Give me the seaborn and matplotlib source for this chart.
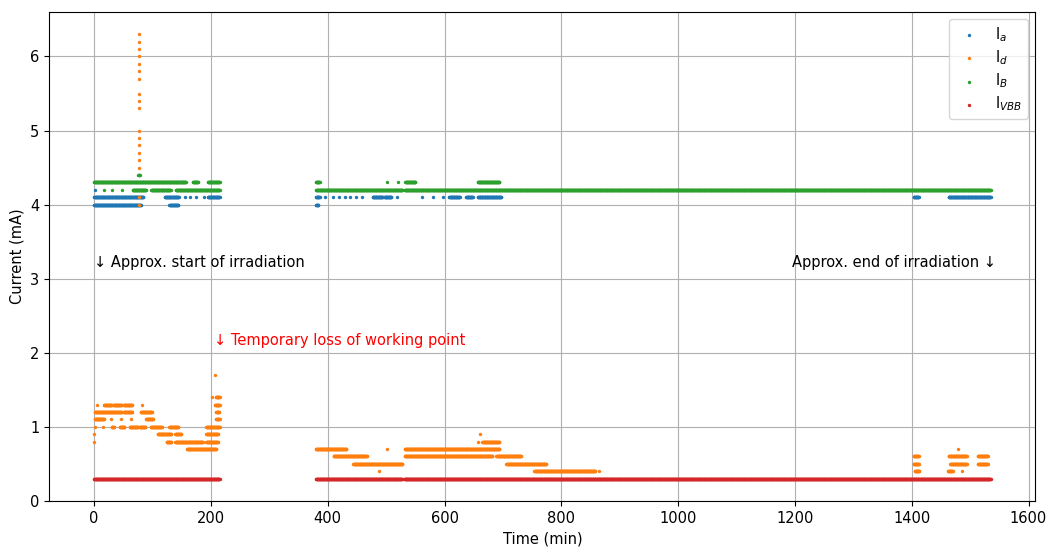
import numpy as np
import pandas as pd
import matplotlib
matplotlib.use("Agg")
import matplotlib.pyplot as plt
import seaborn as sns

# ---- data: runs of constant readings (start_min, end_min, value_mA) ----
ia_runs = [
    (0, 80, 4.0), (129, 144, 4.0), (380, 384, 4.0),
    (0, 84, 4.1), (121, 145, 4.1), (155, 155, 4.1), (164, 164, 4.1), (174, 174, 4.1),
    (189, 189, 4.1), (195, 215, 4.1), (380, 386, 4.1), (396, 396, 4.1), (409, 409, 4.1),
    (419, 419, 4.1), (429, 429, 4.1), (438, 438, 4.1), (448, 448, 4.1), (458, 458, 4.1),
    (477, 494, 4.1), (497, 509, 4.1), (518, 518, 4.1), (562, 562, 4.1), (581, 581, 4.1),
    (598, 598, 4.1), (608, 626, 4.1), (637, 648, 4.1), (657, 697, 4.1),
    (1403, 1412, 4.1), (1463, 1535, 4.1),
    (1, 1, 4.2),
]

id_runs = [
    (5, 5, 1.3), (17, 30, 1.3), (33, 47, 1.3), (51, 65, 1.3), (82, 82, 1.3), (207, 215, 1.3),
    (202, 202, 1.4), (209, 215, 1.4), (207, 207, 1.7),
    (1, 47, 1.2), (51, 65, 1.2), (80, 99, 1.2), (209, 214, 1.2),
    (1, 17, 1.1), (29, 29, 1.1), (46, 46, 1.1), (63, 63, 1.1), (89, 101, 1.1), (209, 215, 1.1),
    (2, 2, 1.0), (16, 16, 1.0), (30, 34, 1.0), (44, 52, 1.0), (61, 75, 1.0), (78, 88, 1.0),
    (97, 116, 1.0), (129, 144, 1.0), (192, 215, 1.0),
    (0, 0, 0.9), (109, 132, 0.9), (139, 149, 0.9), (192, 212, 0.9), (660, 660, 0.9),
    (0, 0, 0.8), (124, 132, 0.8), (139, 186, 0.8), (192, 212, 0.8), (657, 657, 0.8), (665, 694, 0.8),
    (159, 209, 0.7), (380, 432, 0.7), (501, 501, 0.7), (532, 694, 0.7), (1479, 1479, 0.7),
    (410, 467, 0.6), (532, 682, 0.6), (689, 731, 0.6), (1403, 1412, 0.6), (1463, 1494, 0.6),
    (1513, 1530, 0.6),
    (444, 528, 0.5), (706, 774, 0.5), (1403, 1412, 0.5), (1466, 1494, 0.5), (1513, 1530, 0.5),
    (487, 487, 0.4), (754, 858, 0.4), (864, 864, 0.4), (1405, 1413, 0.4), (1462, 1470, 0.4),
    (1486, 1486, 0.4),
]
id_spike_time = 77
id_spike_values = [4.0, 4.1, 4.2, 4.5, 4.6, 4.7, 4.8, 4.9, 5.0, 5.3, 5.4, 5.5,
                   5.7, 5.8, 5.9, 6.0, 6.1, 6.2, 6.3]

ib_runs = [
    (0, 157, 4.3), (169, 178, 4.3), (195, 215, 4.3), (380, 386, 4.3), (501, 501, 4.3),
    (521, 521, 4.3), (533, 550, 4.3), (657, 694, 4.3),
    (17, 17, 4.2), (31, 31, 4.2), (47, 47, 4.2), (66, 89, 4.2), (98, 131, 4.2),
    (140, 215, 4.2), (380, 528, 4.2), (532, 1535, 4.2),
    (76, 78, 4.4),
]

ivbb_runs = [(0, 215, 0.3), (380, 527, 0.3), (531, 1535, 0.3)]

series_labels = [r"I$_a$", r"I$_d$", r"I$_B$", r"I$_{VBB}$"]
series_colors = ["#1f77b4", "#ff7f0e", "#2ca02c", "#d62728"]


def expand(runs, step=0.5):
    t, v = [], []
    for a, b, val in runs:
        ts = np.arange(a, b + 0.001, step)
        t.extend(ts)
        v.extend([val] * len(ts))
    return np.array(t, dtype=float), np.array(v, dtype=float)


ia_t, ia_v = expand(ia_runs)
id_t, id_v = expand(id_runs)
id_t = np.concatenate([id_t, np.full(len(id_spike_values), id_spike_time, dtype=float)])
id_v = np.concatenate([id_v, np.array(id_spike_values)])
ib_t, ib_v = expand(ib_runs)
vb_t, vb_v = expand(ivbb_runs)

data = [(ia_t, ia_v), (id_t, id_v), (ib_t, ib_v), (vb_t, vb_v)]

plt.rcParams["font.size"] = 10.5

fig = plt.figure(figsize=(10.48, 5.48), dpi=100)
ax = fig.add_subplot(111)
fig.subplots_adjust(left=0.047, right=0.988, bottom=0.086, top=0.978)

for (t, v), lab, col in zip(data, series_labels, series_colors):
    df = pd.DataFrame({"Time (min)": t, "Current (mA)": v})
    sns.scatterplot(data=df, x="Time (min)", y="Current (mA)", ax=ax, color=col,
                    s=6, linewidth=0, label=lab, zorder=2)

ax.set_ylim(bottom=0)
ax.set_xticks(np.arange(0, 1601, 200))
ax.set_yticks(np.arange(0, 7, 1))
ax.grid(True, color="#b0b0b0", linewidth=0.8)
ax.set_axisbelow(True)
ax.set_xlabel("Time (min)")
ax.set_ylabel("Current (mA)")

ax.text(0, 3.22, "↓ Approx. start of irradiation", ha="left", va="center")
ax.text(1545, 3.22, "Approx. end of irradiation ↓", ha="right", va="center")
ax.text(205, 2.17, "↓ Temporary loss of working point", ha="left", va="center",
        color="red")

ax.legend(loc="upper right", labelspacing=0.3, markerscale=1.0)

fig.savefig("out.png", dpi=100)
